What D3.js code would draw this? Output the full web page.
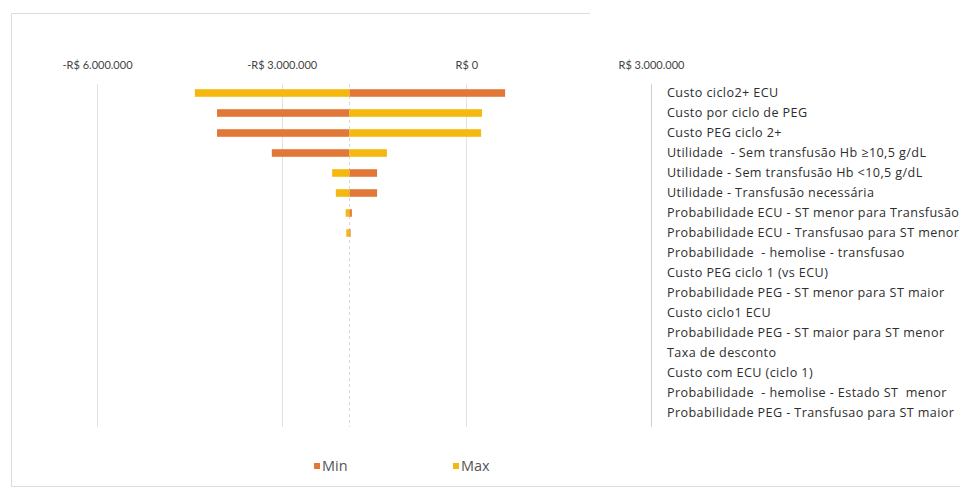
<!DOCTYPE html>
<html>
<head>
<meta charset="utf-8">
<script src="https://cdn.jsdelivr.net/npm/d3@7/dist/d3.min.js"></script>
<style>
  html, body { margin: 0; padding: 0; background: #fff; }
  svg { display: block; }
  .tick text { font-family: Lato, "Open Sans", sans-serif; font-size: 11px; fill: #444; letter-spacing: 0px; }
  .lbl { font-family: "Open Sans", Lato, sans-serif; font-size: 12.6px; fill: #2e2e2e; white-space: pre; letter-spacing: 0.4px; }
  .leg { font-family: "Open Sans", Lato, sans-serif; font-size: 14.5px; fill: #555; }
</style>
</head>
<body>
<div id="chart"></div>
<script>
// Tornado diagram: one-way sensitivity of the ICER (R$) around the base case
const parameters = [
  "Custo ciclo2+ ECU",
  "Custo por ciclo de PEG",
  "Custo PEG ciclo 2+",
  "Utilidade  - Sem transfusão Hb ≥10,5 g/dL",
  "Utilidade - Sem transfusão Hb <10,5 g/dL",
  "Utilidade - Transfusão necessária",
  "Probabilidade ECU - ST menor para Transfusão",
  "Probabilidade ECU - Transfusao para ST menor",
  "Probabilidade  - hemolise - transfusao",
  "Custo PEG ciclo 1 (vs ECU)",
  "Probabilidade PEG - ST menor para ST maior",
  "Custo ciclo1 ECU",
  "Probabilidade PEG - ST maior para ST menor",
  "Taxa de desconto",
  "Custo com ECU (ciclo 1)",
  "Probabilidade  - hemolise - Estado ST  menor",
  "Probabilidade PEG - Transfusao para ST maior"
];

const baseCase = -1900000;

// Result with each parameter at its lower bound
const minValues = [
   630000, -4050000, -4050000, -3160000, -1450000, -1450000, -1860000, -1880000,
  -1900000, -1900000, -1900000, -1900000, -1900000, -1900000, -1900000, -1900000, -1900000
];

// Result with each parameter at its upper bound
const maxValues = [
  -4410000,   255000,   240000, -1290000, -2180000, -2120000, -1960000, -1950000,
  -1900000, -1900000, -1900000, -1900000, -1900000, -1900000, -1900000, -1900000, -1900000
];

const tickValues = [-6000000, -3000000, 0, 3000000];
const seriesNames = ["Min", "Max"];
const colors = { Min: "#E27838", Max: "#F5B80E" };

const W = 962, H = 488;
const svg = d3.select("#chart").append("svg").attr("width", W).attr("height", H);

svg.append("rect").attr("width", W).attr("height", H).attr("fill", "#fff");

// outer chart frame
svg.append("path")
  .attr("d", "M590,13.5 H11.5 V486.5 H960")
  .attr("fill", "none").attr("stroke", "#dcdcdc").attr("stroke-width", 1);

const x = d3.scaleLinear().domain([-6000000, 3000000]).range([97, 651]);
const y = d3.scaleBand().domain(parameters).range([83, 423]).paddingInner(0.62).paddingOuter(0.31);

const loc = d3.formatLocale({ decimal: ",", thousands: ".", grouping: [3], currency: ["R$ ", ""] });
const fmt = loc.format(",.0f");
const tickFmt = v => (v < 0 ? "-" : "") + "R$ " + fmt(Math.abs(v));

// vertical gridlines
svg.append("g").selectAll("line").data(tickValues).join("line")
  .attr("x1", d => Math.round(x(d)) + 0.5).attr("x2", d => Math.round(x(d)) + 0.5)
  .attr("y1", 84).attr("y2", 427)
  .attr("stroke", d => d === 3000000 ? "#cfcfcf" : "#e2e2e2").attr("stroke-width", 1);

// top value axis
const axis = svg.append("g").attr("transform", "translate(0,72)")
  .call(d3.axisTop(x).tickValues(tickValues).tickFormat(tickFmt).tickSize(0));
axis.select(".domain").remove();
axis.selectAll(".tick text").attr("dy", "0");

// category axis through the base case
svg.append("line")
  .attr("x1", Math.round(x(baseCase)) + 0.5).attr("x2", Math.round(x(baseCase)) + 0.5)
  .attr("y1", 84).attr("y2", 427)
  .attr("stroke", "#d6d6e0").attr("stroke-dasharray", "3,3");

// bars: each runs from the base case to the parameter's result
const rows = parameters.map((p, i) => ({ p, Min: minValues[i], Max: maxValues[i] }));
const barG = svg.append("g");
seriesNames.forEach(s => {
  barG.selectAll("rect." + s).data(rows).join("rect")
    .attr("class", s)
    .attr("x", d => Math.min(x(d[s]), x(baseCase)))
    .attr("width", d => Math.abs(x(d[s]) - x(baseCase)))
    .attr("y", d => y(d.p))
    .attr("height", y.bandwidth())
    .attr("fill", colors[s]);
});

// parameter names at the right
svg.append("g").selectAll("text").data(parameters).join("text")
  .attr("class", "lbl")
  .attr("x", 667)
  .attr("y", d => y(d) + y.bandwidth() / 2)
  .attr("dy", "0.35em")
  .text(d => d);

// legend
const legX = { Min: 314, Max: 453 };
const leg = svg.append("g").selectAll("g").data(seriesNames).join("g")
  .attr("transform", d => `translate(${legX[d]},466)`);
leg.append("rect").attr("x", 0).attr("y", -3).attr("width", 6).attr("height", 6)
  .attr("fill", d => colors[d]);
leg.append("text").attr("class", "leg").attr("x", 8).attr("dy", "0.35em").text(d => d);
</script>
</body>
</html>
